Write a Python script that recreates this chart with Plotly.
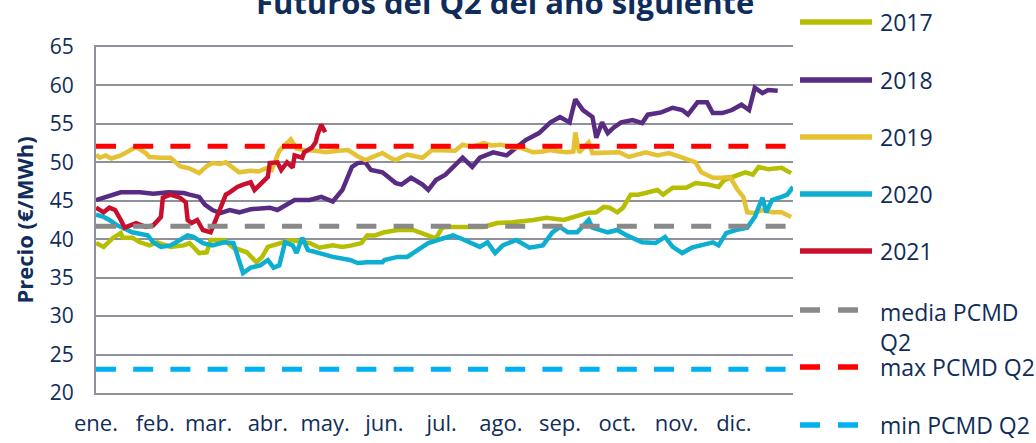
import plotly.graph_objects as go

# ---------------- data ----------------
month_labels = ["ene.", "feb.", "mar.", "abr.", "may.", "jun.",
                "jul.", "ago.", "sep.", "oct.", "nov.", "dic."]
month_start_days = [0, 31, 59, 90, 120, 151, 181, 212, 243, 273, 304, 334]

days_2017 = [0, 4, 9, 13, 14, 19, 23, 28, 32, 39, 46, 49, 54, 58, 60, 67, 72, 79, 84, 87,
             90, 94, 102, 112, 117, 124, 129, 134, 139, 142, 146, 151, 158, 166, 171, 176,
             178, 181, 183, 191, 203, 210, 218, 229, 236, 245, 252, 257, 262, 266, 269, 273,
             276, 280, 284, 289, 294, 297, 302, 309, 314, 321, 326, 329, 336, 340, 344, 347,
             352, 359, 364]
vals_2017 = [39.5, 39.0, 40.2, 40.8, 40.2, 40.2, 39.6, 39.2, 39.6, 39.0, 39.2, 39.5, 38.2, 38.3,
             39.9, 39.9, 38.9, 38.3, 37.0, 37.7, 39.0, 39.3, 39.9, 39.5, 38.9, 39.2, 39.0, 39.2,
             39.5, 40.5, 40.5, 40.9, 41.2, 41.2, 40.8, 40.3, 40.1, 41.4, 41.6, 41.6, 41.6, 42.1,
             42.2, 42.5, 42.8, 42.5, 43.1, 43.4, 43.5, 44.2, 44.1, 43.5, 44.1, 45.8, 45.8, 46.1,
             46.4, 45.8, 46.7, 46.7, 47.3, 47.1, 46.8, 47.7, 48.3, 48.7, 48.4, 49.4, 49.1, 49.3,
             48.6]

days_2018 = [0, 7, 13, 23, 30, 38, 46, 49, 54, 57, 61, 65, 70, 75, 81, 91, 95, 104, 112, 118,
             124, 129, 132, 134, 137, 141, 144, 150, 157, 160, 165, 171, 174, 178, 183, 187,
             192, 197, 201, 208, 215, 220, 225, 232, 238, 243, 248, 251, 255, 260, 262, 265,
             268, 271, 275, 281, 286, 289, 296, 302, 307, 310, 315, 320, 323, 328, 333, 338,
             342, 345, 349, 352, 357]
vals_2018 = [45.1, 45.6, 46.1, 46.1, 45.9, 46.1, 46.0, 45.8, 45.5, 44.5, 43.8, 43.4, 43.8, 43.5,
             43.9, 44.1, 43.8, 45.1, 45.1, 45.5, 44.9, 46.4, 48.0, 49.4, 49.9, 50.0, 49.0, 48.7,
             47.3, 47.1, 48.0, 47.1, 46.4, 47.7, 48.4, 49.3, 50.6, 49.4, 50.6, 51.3, 50.9, 51.9,
             52.9, 53.8, 55.2, 55.9, 55.2, 58.2, 56.8, 55.9, 53.2, 55.2, 53.8, 54.5, 55.2, 55.5,
             55.1, 56.2, 56.5, 57.1, 56.8, 56.2, 57.8, 57.8, 56.4, 56.4, 56.8, 57.5, 56.8, 59.7,
             59.0, 59.4, 59.3]

days_2019 = [0, 2, 5, 8, 13, 17, 21, 26, 28, 34, 39, 44, 49, 54, 58, 61, 65, 68, 71, 75, 81,
             85, 89, 92, 96, 99, 102, 105, 109, 115, 120, 127, 132, 137, 141, 146, 150, 154,
             157, 160, 163, 167, 171, 176, 183, 188, 192, 197, 203, 207, 212, 217, 222, 226,
             229, 234, 238, 242, 247, 250, 251, 253, 258, 260, 268, 274, 279, 283, 288, 294,
             300, 307, 314, 317, 323, 328, 332, 336, 339, 341, 345, 349, 354, 359, 364]
vals_2019 = [51.0, 50.6, 50.9, 50.5, 50.9, 51.5, 52.0, 51.2, 50.7, 50.6, 50.6, 49.5, 49.2, 48.6,
             49.5, 49.9, 49.8, 50.0, 49.4, 48.7, 48.9, 48.8, 49.2, 49.0, 51.5, 52.2, 53.0, 51.8,
             51.6, 51.5, 51.3, 51.5, 51.6, 50.8, 50.3, 50.8, 51.2, 50.6, 50.3, 50.7, 51.0, 50.8,
             50.6, 51.6, 51.6, 51.5, 52.3, 52.0, 52.5, 52.2, 52.3, 52.0, 51.9, 51.5, 51.3, 51.4,
             51.6, 51.4, 51.3, 51.4, 53.9, 51.3, 52.6, 51.2, 51.2, 51.3, 50.7, 51.0, 51.3, 50.9,
             51.2, 50.6, 50.0, 48.7, 48.0, 48.0, 48.1, 46.4, 45.5, 43.5, 43.4, 43.8, 43.5, 43.5,
             42.9]

days_2020 = [0, 4, 7, 11, 14, 19, 27, 30, 34, 39, 42, 48, 51, 56, 61, 67, 72, 75, 77, 81, 86,
             90, 93, 96, 99, 103, 105, 108, 111, 117, 124, 133, 137, 142, 150, 151, 158, 163,
             169, 174, 179, 187, 192, 201, 205, 209, 213, 220, 227, 234, 239, 243, 247, 252,
             258, 260, 268, 273, 278, 286, 293, 298, 302, 307, 312, 317, 323, 326, 330, 335,
             341, 345, 349, 351, 354, 359, 362, 365]
vals_2020 = [43.2, 42.9, 42.5, 41.8, 41.5, 40.9, 40.5, 39.6, 39.0, 39.2, 39.6, 40.5, 40.3, 39.5,
             39.2, 39.6, 39.5, 36.9, 35.6, 36.3, 36.6, 37.3, 36.3, 36.6, 39.6, 39.2, 38.2, 40.2,
             38.6, 38.2, 37.7, 37.3, 36.9, 37.0, 37.0, 37.3, 37.7, 37.7, 38.6, 39.5, 39.9, 40.5,
             40.0, 39.0, 39.6, 38.2, 39.2, 39.9, 38.9, 39.2, 40.9, 41.6, 40.9, 40.9, 42.5, 41.5,
             40.9, 41.2, 40.5, 39.6, 39.5, 40.3, 39.0, 38.2, 38.9, 39.2, 39.6, 39.2, 40.8, 41.2,
             41.5, 42.9, 45.4, 43.5, 45.1, 45.5, 45.8, 46.8]

days_2021 = [0, 4, 7, 10, 13, 15, 18, 21, 26, 30, 34, 35, 39, 44, 47, 48, 50, 53, 56, 60, 62,
             65, 68, 70, 74, 77, 81, 83, 86, 90, 91, 95, 97, 100, 103, 104, 108, 109, 113, 115,
             116, 118, 120]
vals_2021 = [44.1, 43.5, 44.1, 43.8, 42.5, 41.5, 41.8, 42.1, 41.6, 41.8, 42.9, 45.4, 45.8, 45.4,
             44.8, 42.5, 42.1, 42.5, 41.2, 40.9, 42.1, 43.8, 45.8, 46.1, 46.8, 47.1, 47.4, 46.4,
             47.1, 48.1, 49.9, 50.0, 49.0, 50.0, 49.3, 50.9, 50.6, 51.3, 51.9, 52.6, 53.6, 54.9,
             53.9]

media_pcmd_q2 = 41.7
max_pcmd_q2 = 52.1
min_pcmd_q2 = 23.1
year_span = [0, 365]

series_names = ["2017", "2018", "2019", "2020", "2021"]
ref_names = ["media PCMD<br>Q2", "max PCMD Q2", "min PCMD Q2"]

# ---------------- style ----------------
NAVY = "#0F2D5A"
GRID = "#8E919A"
FONT = "Open Sans"
series_colors = ["#B5BE00", "#582C83", "#E4C234", "#0DAED0", "#C8102E"]
ref_colors = ["#898989", "#FF0000", "#00B0F0"]
DASH = "20px,17.2px"

W, H = 1036, 443
L, R, T, B = 96, 793, 47, 393  # plot area in px


def px_x(x):
    return (x - L) / (R - L)


def px_y(y):
    return (B - y) / (B - T)


fig = go.Figure()

series = [(days_2017, vals_2017), (days_2018, vals_2018), (days_2019, vals_2019),
          (days_2020, vals_2020), (days_2021, vals_2021)]
for (d, v), name, col in zip(series, series_names, series_colors):
    fig.add_trace(go.Scatter(x=d, y=v, mode="lines", name=name,
                             line=dict(color=col, width=4.5), showlegend=False,
                             hoverinfo="skip"))

for val, name, col in zip([media_pcmd_q2, max_pcmd_q2, min_pcmd_q2], ref_names, ref_colors):
    fig.add_trace(go.Scatter(x=year_span, y=[val, val], mode="lines", name=name,
                             line=dict(color=col, width=5, dash=DASH), showlegend=False,
                             hoverinfo="skip"))

# ---------------- manual legend ----------------
legend_y = [22, 80, 137, 194, 251, 310, 367, 425]
shapes = []
annotations = []
for i, (name, col) in enumerate(zip(series_names, series_colors)):
    yy = px_y(legend_y[i])
    shapes.append(dict(type="line", xref="paper", yref="paper",
                       x0=px_x(800), x1=px_x(872), y0=yy, y1=yy,
                       line=dict(color=col, width=5.5)))
    annotations.append(dict(xref="paper", yref="paper", x=px_x(878), y=yy,
                            xanchor="left", yanchor="middle", text=name, showarrow=False,
                            font=dict(family=FONT, size=23, color=NAVY)))
for j, (name, col) in enumerate(zip(ref_names, ref_colors)):
    yy = px_y(legend_y[5 + j])
    shapes.append(dict(type="line", xref="paper", yref="paper",
                       x0=px_x(800), x1=px_x(858), y0=yy, y1=yy,
                       line=dict(color=col, width=5.5, dash="20px,18px")))
    ty = yy if j > 0 else px_y(326.5)
    annotations.append(dict(xref="paper", yref="paper", x=px_x(878), y=ty,
                            xanchor="left", yanchor="middle", text=name, showarrow=False,
                            align="left",
                            font=dict(family=FONT, size=23, color=NAVY)))

# title (partially cut at top, as in the reference)
annotations.append(dict(xref="paper", yref="paper", x=px_x(505), y=px_y(25),
                        xanchor="center", yanchor="bottom",
                        text="Futuros del Q2 del año siguiente", showarrow=False,
                        font=dict(family=FONT, size=31, color=NAVY, weight="bold")))

fig.update_layout(
    width=W, height=H,
    margin=dict(l=L, r=W - R, t=T, b=H - B, pad=0, autoexpand=False),
    paper_bgcolor="white", plot_bgcolor="white",
    font=dict(family=FONT, color=NAVY),
    shapes=shapes, annotations=annotations,
    showlegend=False,
)
fig.update_xaxes(range=year_span, tickmode="array", tickvals=month_start_days,
                 ticktext=month_labels, showgrid=False, zeroline=False,
                 showline=True, mirror=True, linecolor=GRID, linewidth=1.5,
                 ticks="", ticklabelstandoff=10, automargin=False,
                 tickfont=dict(family=FONT, size=22, color=NAVY))
fig.update_yaxes(range=[20, 65], tick0=20, dtick=5, showgrid=True, gridcolor=GRID,
                 gridwidth=1.5, zeroline=False, showline=True, linecolor=GRID,
                 linewidth=2, ticks="", ticklabelstandoff=16, automargin=False,
                 tickfont=dict(family=FONT, size=21, color=NAVY),
                 title=dict(text="Precio (€/MWh)", standoff=10,
                            font=dict(family=FONT, size=22, color=NAVY, weight="bold")))

fig.write_html("out.html", config={"displayModeBar": False},
               post_script="document.body.style.margin='0px';"
                           "document.body.style.overflow='hidden';")
